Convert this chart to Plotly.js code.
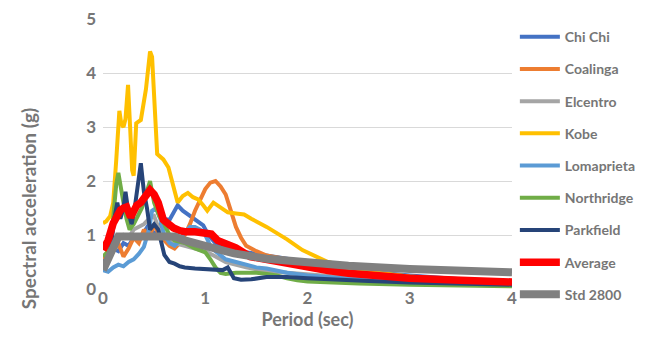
<!DOCTYPE html>
<html>
<head>
<meta charset="utf-8">
<script src="https://cdn.plot.ly/plotly-3.0.1.min.js"></script>
<style>html,body{margin:0;padding:0;background:#fff;}#chart{width:656px;height:360px;}</style>
</head>
<body>
<div id="chart"></div>
<script>
// ---- Data (period in sec, spectral acceleration in g) ----
const seriesNames = ["Chi Chi", "Coalinga", "Elcentro", "Kobe", "Lomaprieta", "Northridge", "Parkfield", "Average", "Std 2800"];

const chiChiT  = [0, 0.05, 0.1, 0.15, 0.2, 0.25, 0.3, 0.35, 0.4, 0.45, 0.5, 0.55, 0.6, 0.65, 0.7, 0.73, 0.78, 0.83, 0.88, 0.93, 0.98, 1.03, 1.1, 1.2, 1.3, 1.4, 1.5, 1.6, 1.7, 1.8, 1.9, 2.0, 2.3, 2.6, 3.0, 3.5, 4.0];
const chiChiSa = [0.5, 0.55, 0.75, 0.7, 0.85, 0.8, 0.95, 0.9, 1.05, 1.2, 1.0, 1.15, 1.3, 1.28, 1.45, 1.55, 1.45, 1.38, 1.3, 1.25, 1.18, 1.0, 0.85, 0.75, 0.68, 0.68, 0.65, 0.63, 0.6, 0.57, 0.54, 0.5, 0.4, 0.32, 0.25, 0.18, 0.13];

const coalingaT  = [0, 0.05, 0.1, 0.15, 0.2, 0.25, 0.3, 0.35, 0.4, 0.45, 0.5, 0.55, 0.6, 0.65, 0.7, 0.75, 0.8, 0.85, 0.9, 0.95, 1.0, 1.05, 1.1, 1.15, 1.2, 1.25, 1.3, 1.35, 1.4, 1.5, 1.6, 1.8, 2.0, 2.3, 2.6, 3.0, 3.5, 4.0];
const coalingaSa = [0.6, 0.55, 0.7, 0.85, 0.6, 0.75, 0.95, 0.85, 1.1, 0.95, 1.2, 1.0, 0.9, 0.8, 0.75, 0.85, 1.0, 1.2, 1.45, 1.65, 1.85, 1.97, 2.0, 1.9, 1.75, 1.45, 1.15, 0.95, 0.8, 0.7, 0.62, 0.55, 0.45, 0.35, 0.27, 0.2, 0.16, 0.13];

const elcentroT  = [0, 0.05, 0.1, 0.15, 0.2, 0.25, 0.3, 0.35, 0.4, 0.45, 0.5, 0.55, 0.6, 0.7, 0.8, 0.9, 1.0, 1.1, 1.2, 1.4, 1.6, 1.8, 2.0, 2.5, 3.0, 3.5, 4.0];
const elcentroSa = [0.45, 0.5, 0.7, 0.9, 1.0, 0.95, 1.1, 1.15, 1.2, 1.3, 1.35, 1.1, 0.95, 0.85, 0.8, 0.75, 0.7, 0.6, 0.5, 0.4, 0.33, 0.3, 0.27, 0.2, 0.16, 0.13, 0.1];

const kobeT  = [0, 0.03, 0.07, 0.1, 0.13, 0.16, 0.18, 0.2, 0.22, 0.245, 0.265, 0.285, 0.3, 0.325, 0.37, 0.42, 0.46, 0.48, 0.53, 0.59, 0.64, 0.68, 0.73, 0.78, 0.83, 0.88, 0.93, 0.98, 1.02, 1.08, 1.15, 1.22, 1.3, 1.38, 1.45, 1.6, 1.8, 1.95, 2.2, 2.4, 2.6, 2.8, 3.0, 3.3, 3.6, 4.0];
const kobeSa = [1.22, 1.25, 1.35, 1.6, 2.4, 3.3, 3.05, 3.0, 3.15, 3.78, 3.0, 2.2, 2.1, 3.07, 3.13, 3.7, 4.4, 4.3, 2.5, 2.4, 2.25, 1.95, 1.6, 1.72, 1.78, 1.7, 1.66, 1.55, 1.45, 1.6, 1.52, 1.42, 1.4, 1.38, 1.3, 1.15, 0.92, 0.72, 0.5, 0.4, 0.32, 0.27, 0.23, 0.19, 0.16, 0.13];

const lomaT  = [0, 0.05, 0.1, 0.15, 0.2, 0.25, 0.3, 0.35, 0.4, 0.45, 0.48, 0.52, 0.56, 0.6, 0.65, 0.7, 0.75, 0.8, 0.85, 0.9, 0.95, 1.0, 1.05, 1.1, 1.2, 1.3, 1.4, 1.5, 1.6, 1.8, 2.0, 2.3, 2.6, 3.0, 3.5, 4.0];
const lomaSa = [0.35, 0.32, 0.4, 0.45, 0.42, 0.5, 0.55, 0.65, 0.78, 1.1, 1.45, 1.5, 1.3, 1.0, 0.85, 0.8, 0.9, 1.05, 1.15, 1.15, 1.1, 1.0, 0.8, 0.7, 0.55, 0.5, 0.45, 0.4, 0.38, 0.3, 0.25, 0.2, 0.16, 0.13, 0.11, 0.09];

const northT  = [0, 0.05, 0.08, 0.11, 0.13, 0.15, 0.17, 0.2, 0.23, 0.26, 0.3, 0.34, 0.38, 0.42, 0.46, 0.5, 0.55, 0.6, 0.65, 0.7, 0.8, 0.9, 1.0, 1.05, 1.1, 1.15, 1.2, 1.3, 1.4, 1.5, 1.6, 1.7, 1.8, 1.9, 2.0, 2.2, 2.5, 3.0, 3.5, 4.0];
const northSa = [0.6, 0.7, 0.9, 1.5, 1.95, 2.15, 1.9, 1.6, 1.3, 1.1, 1.2, 1.35, 1.5, 1.75, 2.0, 1.6, 1.35, 1.2, 1.0, 0.9, 0.85, 0.75, 0.68, 0.55, 0.4, 0.3, 0.28, 0.3, 0.3, 0.3, 0.28, 0.25, 0.2, 0.16, 0.14, 0.12, 0.1, 0.08, 0.06, 0.05];

const parkT  = [0, 0.05, 0.08, 0.11, 0.14, 0.17, 0.2, 0.22, 0.25, 0.28, 0.31, 0.34, 0.37, 0.4, 0.43, 0.46, 0.5, 0.54, 0.57, 0.6, 0.65, 0.7, 0.75, 0.8, 0.9, 1.0, 1.1, 1.17, 1.22, 1.28, 1.35, 1.45, 1.6, 1.8, 2.0, 2.3, 2.6, 3.0, 3.5, 4.0];
const parkSa = [0.5, 0.55, 0.8, 1.3, 1.6, 1.3, 1.5, 1.8, 1.4, 1.2, 1.5, 1.9, 2.33, 1.8, 1.5, 1.1, 1.2, 1.1, 0.85, 0.63, 0.5, 0.47, 0.42, 0.4, 0.38, 0.37, 0.36, 0.35, 0.4, 0.2, 0.17, 0.18, 0.22, 0.22, 0.2, 0.17, 0.15, 0.12, 0.1, 0.08];

const avgT  = [0, 0.05, 0.1, 0.13, 0.17, 0.2, 0.23, 0.27, 0.3, 0.33, 0.37, 0.41, 0.46, 0.5, 0.54, 0.59, 0.64, 0.69, 0.75, 0.8, 0.9, 1.0, 1.06, 1.12, 1.2, 1.3, 1.44, 1.6, 1.77, 2.0, 2.2, 2.4, 2.7, 3.0, 3.5, 4.0];
const avgSa = [0.72, 0.9, 1.22, 1.35, 1.46, 1.5, 1.52, 1.33, 1.45, 1.55, 1.6, 1.7, 1.83, 1.75, 1.6, 1.28, 1.2, 1.13, 1.08, 1.06, 1.06, 1.04, 1.02, 0.9, 0.84, 0.76, 0.6, 0.54, 0.48, 0.4, 0.34, 0.29, 0.24, 0.2, 0.16, 0.13];

const stdT  = [0, 0.15, 0.7, 0.8, 1.0, 1.28, 1.6, 2.0, 2.4, 3.0, 3.5, 4.0];
const stdSa = [0.35, 0.97, 0.97, 0.9, 0.8, 0.66, 0.56, 0.48, 0.43, 0.37, 0.33, 0.31];

const xTicks = [0, 1, 2, 3, 4];
const yTicks = [0, 1, 2, 3, 4, 5];

// ---- Styles ----
const colors = ["#4472C4", "#ED7D31", "#A5A5A5", "#FFC000", "#5B9BD5", "#70AD47", "#264478", "#FF0000", "#808080"];
const widths = [4, 4, 4, 4, 4, 4, 4, 7.5, 8];
const xs = [chiChiT, coalingaT, elcentroT, kobeT, lomaT, northT, parkT, avgT, stdT];
const ys = [chiChiSa, coalingaSa, elcentroSa, kobeSa, lomaSa, northSa, parkSa, avgSa, stdSa];

const FONT = "Lato, 'Open Sans', sans-serif";
const TXT = "#767676";

const traces = seriesNames.map((n, i) => ({
  type: "scatter", mode: "lines", name: n, x: xs[i], y: ys[i],
  legendgroup: "g" + i,
  line: { color: colors[i], width: widths[i], shape: "linear" }
}));

const layout = {
  width: 656, height: 360,
  margin: { l: 103, r: 144, t: 19, b: 71 },
  paper_bgcolor: "#fff", plot_bgcolor: "#fff",
  showlegend: true,
  legend: {
    x: 1.007, xanchor: "left", y: 0.992, yanchor: "top",
    font: { family: FONT, size: 14, weight: "bold", color: TXT },
    tracegroupgap: 11, itemwidth: 40, bgcolor: "rgba(0,0,0,0)",
    maxheight: 340
  },
  xaxis: {
    range: [0, 4], tickvals: xTicks, showgrid: false, zeroline: false, showline: false, ticks: "",
    ticklabelstandoff: -3,
    tickfont: { family: FONT, size: 17, weight: "bold", color: TXT },
    title: { text: "Period (sec)", font: { family: FONT, size: 18, weight: "bold", color: TXT }, standoff: 6 }
  },
  yaxis: {
    range: [0, 5], tickvals: yTicks, showgrid: true, gridcolor: "#D9D9D9", gridwidth: 1,
    zeroline: false, showline: false, ticks: "", ticklabelstandoff: 6,
    tickfont: { family: FONT, size: 17, weight: "bold", color: TXT }
  },
  annotations: [{
    text: "Spectral acceleration (g)", xref: "paper", yref: "paper",
    x: -0.183, y: 0.296, xanchor: "center", yanchor: "middle", textangle: -90, showarrow: false,
    font: { family: FONT, size: 19, weight: "bold", color: TXT }
  }]
};

Plotly.newPlot("chart", traces, layout, { displayModeBar: false, staticPlot: true });
</script>
</body>
</html>
